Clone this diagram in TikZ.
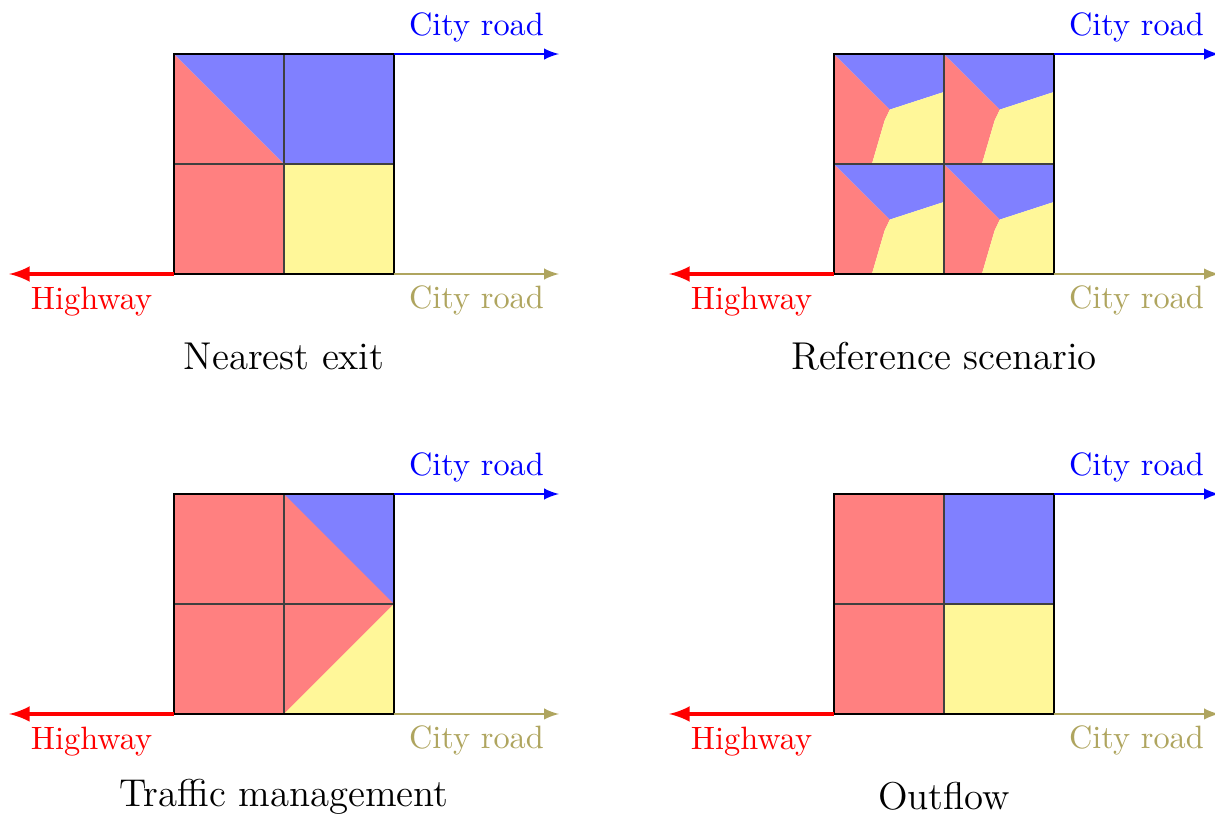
\documentclass[tikz,border=0pt]{standalone}
\usetikzlibrary{positioning}

\definecolor{cityolive}{RGB}{175,165,95}
\definecolor{zonered}{RGB}{255,128,128}
\definecolor{zoneblue}{RGB}{128,128,255}
\definecolor{zoneyellow}{RGB}{255,247,153}

\tikzset{
    highway/.style = {red, very thick, -latex},
    cityup/.style = {blue, semithick, -latex},
    citydown/.style = {cityolive, semithick, -latex},
    cellgrid/.style = {black!75, thin},
}

\begin{document}
\begin{tikzpicture}[x = 1.1957cm, y = 1.1957cm]
        \useasboundingbox (-1.582, -4.918) rectangle (9.464, 2.491);
        % nearest exit
        \fill[zonered] (0, 2) -- (1, 1) -- (1, 0) -- (0, 0) -- cycle;
        \fill[zoneblue] (0, 2) -- (2, 2) -- (2, 1) -- (1, 1) -- cycle;
        \fill[zoneyellow] (1, 1) -- (2, 1) -- (2, 0) -- (1, 0) -- cycle;
        % reference scenario, same split in every cell
        \foreach \cx/\cy in {6/0, 7/0, 6/1, 7/1}{
            \begin{scope}[shift = {(\cx, \cy)}]
                \fill[zonered] (0, 1) -- (0.508, 0.495) -- (0.46, 0.394) -- (0.345, 0) -- (0, 0) -- cycle;
                \fill[zoneblue] (0, 1) -- (1, 1) -- (1, 0.655) -- (0.508, 0.495) -- cycle;
                \fill[zoneyellow] (0.508, 0.495) -- (1, 0.655) -- (1, 0) -- (0.345, 0) -- (0.46, 0.394) -- cycle;
            \end{scope}
        }
        % traffic management
        \fill[zonered] (0, -4) rectangle (2, -2);
        \fill[zoneblue] (1, -2) -- (2, -2) -- (2, -3) -- cycle;
        \fill[zoneyellow] (2, -3) -- (2, -4) -- (1, -4) -- cycle;
        % outflow
        \fill[zonered] (6, -4) rectangle (7, -2);
        \fill[zoneblue] (7, -3) rectangle (8, -2);
        \fill[zoneyellow] (7, -4) rectangle (8, -3);
        % grids, roads and titles
        \foreach \ox/\oy/\nm/\ttl in {0/0/ne/Nearest exit, 6/0/rs/Reference scenario, 0/-4/tm/Traffic management, 6/-4/of/Outflow}{
            \draw[cellgrid] (\ox + 1, \oy) -- (\ox + 1, \oy + 2);
            \draw[cellgrid] (\ox, \oy + 1) -- (\ox + 2, \oy + 1);
            \draw[semithick] (\ox, \oy) rectangle (\ox + 2, \oy + 2);
            \draw[thick] (\ox + 2, \oy) -- (\ox + 2, \oy + 2);
            \coordinate (\nm-sw) at (\ox, \oy);
            \coordinate (\nm-se) at (\ox + 2, \oy);
            \coordinate (\nm-ne) at (\ox + 2, \oy + 2);
            \coordinate (\nm-hw) at (\ox - 1.5, \oy);
            \coordinate (\nm-ce) at (\ox + 3.5, \oy);
            \coordinate (\nm-cn) at (\ox + 3.5, \oy + 2);
            \draw[highway] (\nm-sw) -- (\nm-hw) node[midway, below, red] (\nm-hwlab) {Highway};
            \draw[citydown] (\nm-se) -- (\nm-ce) node[midway, below] (\nm-celab) {City road};
            \draw[cityup] (\nm-ne) -- (\nm-cn) node[midway, above] (\nm-cnlab) {City road};
            \node[font = \large] (\nm-title) at (\ox + 1, \oy - 0.75) {\ttl};
        }
    \end{tikzpicture}
\end{document}
